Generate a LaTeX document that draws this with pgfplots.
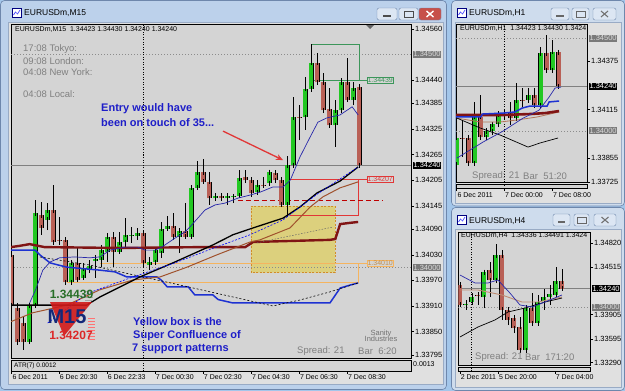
\documentclass[border=0pt]{standalone}
\usepackage{fontspec}
\setmainfont{Liberation Sans}
\usepackage{pgfplots}
\usepackage{pgfplotstable}
\pgfplotsset{compat=1.18}
\usetikzlibrary{arrows.meta}

\definecolor{desk}{RGB}{163,198,234}
\definecolor{frameA}{RGB}{188,209,235}
\definecolor{frameI}{RGB}{206,220,237}
\definecolor{frameB}{RGB}{110,135,172}
\definecolor{client}{RGB}{224,224,224}
\definecolor{plotbg}{RGB}{212,212,212}
\definecolor{bullc}{RGB}{34,200,34}
\definecolor{bearc}{RGB}{185,96,86}
\definecolor{maroonL}{RGB}{128,20,20}
\definecolor{kblue}{RGB}{30,50,210}
\definecolor{navyL}{RGB}{40,40,170}
\definecolor{siennaL}{RGB}{160,82,45}
\definecolor{tanL}{RGB}{190,140,115}
\definecolor{txtgray}{RGB}{128,128,128}
\definecolor{annblue}{RGB}{30,30,200}
\definecolor{yellowbox}{RGB}{220,208,125}
\definecolor{boxedge}{RGB}{210,140,40}
\definecolor{orangeL}{RGB}{245,180,95}
\definecolor{redL}{RGB}{225,55,55}
\definecolor{greenL}{RGB}{60,150,90}
\definecolor{btnfill}{RGB}{220,230,243}
\definecolor{closered}{RGB}{199,80,74}

\newcommand{\ft}[1]{\fontsize{#1}{#1}\selectfont}

% ---------------- data: M15 ----------------
\pgfplotstableread{
x o h l c
3 1.33826 1.33917 1.33821 1.33912
4 1.33912 1.34159 1.33908 1.34128
6 1.34112 1.34151 1.34088 1.34135
10 1.33966 1.34013 1.33964 1.34011
12 1.33976 1.34011 1.33971 1.33999
13 1.33994 1.34018 1.33990 1.34004
14 1.34016 1.34030 1.33976 1.34020
15 1.34018 1.34053 1.34001 1.34041
16 1.34037 1.34081 1.34013 1.34072
18 1.34037 1.34084 1.34034 1.34060
19 1.34060 1.34116 1.34048 1.34077
20 1.34074 1.34095 1.34058 1.34076
21 1.34074 1.34093 1.34065 1.34081
23 1.34006 1.34025 1.33994 1.34013
24 1.34013 1.34048 1.34011 1.34041
25 1.34034 1.34107 1.34023 1.34091
26 1.34091 1.34121 1.34088 1.34098
28 1.34072 1.34093 1.34034 1.34086
30 1.34072 1.34189 1.34069 1.34187
31 1.34187 1.34250 1.34185 1.34224
34 1.34163 1.34170 1.34161 1.34168
36 1.34163 1.34170 1.34147 1.34168
37 1.34166 1.34173 1.34151 1.34167
38 1.34168 1.34229 1.34166 1.34210
41 1.34177 1.34205 1.34175 1.34194
43 1.34198 1.34229 1.34194 1.34224
46 1.34147 1.34262 1.34119 1.34240
47 1.34240 1.34400 1.34236 1.34353
49 1.34353 1.34447 1.34323 1.34419
50 1.34419 1.34524 1.34412 1.34480
54 1.34334 1.34393 1.34283 1.34369
55 1.34369 1.34445 1.34365 1.34435
57 1.34393 1.34435 1.34381 1.34421
}\mbull
\pgfplotstableread{
x o h l c
0 1.34030 1.34034 1.33910 1.33912
1 1.33905 1.33917 1.33819 1.33826
2 1.33870 1.33884 1.33807 1.33826
5 1.34123 1.34154 1.34077 1.34093
7 1.34135 1.34194 1.34060 1.34060
8 1.34065 1.34119 1.34053 1.34063
9 1.34065 1.34072 1.33962 1.33966
11 1.34011 1.34048 1.33968 1.33971
17 1.34072 1.34084 1.34001 1.34037
22 1.34081 1.34084 1.34001 1.34011
27 1.34098 1.34128 1.34065 1.34072
29 1.34086 1.34151 1.34070 1.34072
32 1.34224 1.34255 1.34198 1.34201
33 1.34201 1.34224 1.34147 1.34163
35 1.34168 1.34170 1.34161 1.34163
39 1.34212 1.34229 1.34198 1.34205
40 1.34205 1.34212 1.34166 1.34175
42 1.34194 1.34212 1.34187 1.34193
44 1.34222 1.34229 1.34198 1.34205
45 1.34205 1.34212 1.34142 1.34147
48 1.34353 1.34381 1.34299 1.34351
51 1.34480 1.34503 1.34435 1.34435
52 1.34435 1.34456 1.34369 1.34369
53 1.34372 1.34421 1.34330 1.34334
56 1.34435 1.34491 1.34388 1.34393
58 1.34423 1.34430 1.34240 1.34240
}\mbear
% ---------------- data: H1 ----------------
\pgfplotstableread{
x o h l c
0 1.33817 1.33978 1.33740 1.33962
3 1.33827 1.34156 1.33817 1.34075
5 1.33967 1.34016 1.33962 1.33999
6 1.33999 1.34048 1.33978 1.34037
7 1.34037 1.34107 1.34021 1.34091
8 1.34091 1.34112 1.34059 1.34093
10 1.34069 1.34258 1.34059 1.34166
12 1.34166 1.34231 1.34156 1.34193
14 1.34139 1.34452 1.34129 1.34419
16 1.34328 1.34489 1.34317 1.34425
}\hbull
\pgfplotstableread{
x o h l c
1 1.33962 1.34059 1.33860 1.33960
2 1.33962 1.33978 1.33817 1.33827
4 1.34075 1.34193 1.33962 1.33967
9 1.34096 1.34156 1.34032 1.34069
11 1.34166 1.34231 1.34129 1.34164
13 1.34193 1.34231 1.34129 1.34139
15 1.34419 1.34516 1.34328 1.34328
17 1.34423 1.34430 1.34240 1.34240
}\hbear
% ---------------- data: H4 ----------------
\pgfplotstableread{
x o h l c
1 1.34030 1.34094 1.33966 1.34043
2 1.34068 1.34183 1.34055 1.34132
4 1.34132 1.34478 1.33991 1.34452
6 1.34350 1.34811 1.34324 1.34670
11 1.33453 1.34030 1.33428 1.33991
13 1.33799 1.34158 1.33773 1.34068
14 1.34081 1.34235 1.33966 1.34132
15 1.34132 1.34286 1.34030 1.34171
16 1.34158 1.34516 1.34132 1.34336
}\fbull
\pgfplotstableread{
x o h l c
0 1.34286 1.34324 1.34004 1.34030
3 1.34158 1.34183 1.34030 1.34145
5 1.34478 1.34580 1.34132 1.34350
7 1.34670 1.34734 1.33838 1.33966
8 1.33966 1.33991 1.33773 1.33838
9 1.33863 1.33902 1.33671 1.33735
10 1.33748 1.33876 1.33415 1.33453
12 1.33991 1.34183 1.33773 1.33799
17 1.34336 1.34491 1.34230 1.34240
}\fbear

\pgfplotsset{
  candle wick/.style={draw=none, mark=none, forget plot,
    error bars/.cd, y dir=plus, y explicit, error mark=none,
    error bar style={draw=black, line width=0.8pt}},
  candle edge/.style={draw=none, mark=none, forget plot,
    error bars/.cd, y dir=plus, y explicit, error mark=none,
    error bar style={draw=black, line width=5pt}},
  candle body/.style={draw=none, mark=none, forget plot,
    error bars/.cd, y dir=both, y explicit, error mark=-,
    error bar style={draw=#1, line width=3.8pt},
    error mark options={draw=black, line width=0.6pt, mark size=2.5pt}},
  mtaxis/.style={scale only axis, anchor=north west,
    axis background/.style={fill=plotbg},
    axis line style={line width=0.7pt, black},
    tick align=outside, major tick length=3pt,
    tick style={black, line width=0.5pt},
    ytick pos=right, yticklabel pos=right,
    yticklabel style={font=\ft{7.5}, inner sep=1pt},
    xtick=\empty, clip mode=individual},
  stripaxis/.style={scale only axis, anchor=north west,
    axis background/.style={fill=plotbg},
    axis line style={line width=0.7pt, black},
    ymin=0, ymax=1, ytick=\empty, xtick pos=left,
    tick align=outside, major tick length=2.5pt,
    tick style={black, line width=0.5pt},
    xticklabel style={anchor=north west, font=\ft{7}, inner sep=0.6pt},
    clip mode=individual},
  lvl/.style={forget plot, mark=none, black!45, line width=0.6pt, dash pattern=on 1pt off 2pt},
  bid/.style={forget plot, mark=none, black!50, line width=0.6pt},
  sep/.style={forget plot, mark=none, black, line width=0.6pt, dash pattern=on 1pt off 1.5pt},
}

\newcommand{\candles}[2]{%
  \addplot[candle wick] table[x=x,y=l,y error plus expr=\thisrow{h}-\thisrow{l}]{#1};
  \addplot[candle wick] table[x=x,y=l,y error plus expr=\thisrow{h}-\thisrow{l}]{#2};
  \addplot[candle edge] table[x=x,y=o,y error plus expr=\thisrow{c}-\thisrow{o}]{#1};
  \addplot[candle edge] table[x=x,y=c,y error plus expr=\thisrow{o}-\thisrow{c}]{#2};
  \addplot[candle body=bullc] table[x=x,y=o,y error plus expr=\thisrow{c}-\thisrow{o},y error minus expr=0]{#1};
  \addplot[candle body=bearc] table[x=x,y=c,y error plus expr=\thisrow{o}-\thisrow{c},y error minus expr=0]{#2};
}

\begin{document}
\begin{tikzpicture}
\useasboundingbox (0,0) rectangle (625pt,-391pt);
% ================= window chrome =================
\begin{scope}[x=1pt,y=-1pt]
\fill[desk] (0,0) rectangle (625,391);
% main window
\fill[frameA, draw=frameB, line width=0.6pt, rounded corners=4pt] (0.5,0.5) rectangle (446.5,389.5);
\fill[client, draw=frameB!70, line width=0.5pt] (8,22) rectangle (443,384);
\draw[blue!50!black, fill=white, line width=0.5pt] (12,8) rectangle (21,17);
\draw[blue!70, line width=0.7pt] (13.5,15) -- (15.5,12) -- (17.5,14) -- (20,10);
\node[anchor=west, font=\ft{8.5}, inner sep=0] at (24,13) {EURUSDm,M15};
\fill[btnfill, draw=frameB, rounded corners=2pt] (377,8) rectangle (397,20);
\draw[black!70, line width=1.3pt] (383,16) -- (391,16);
\fill[btnfill, draw=frameB, rounded corners=2pt] (399,8) rectangle (418,20);
\draw[black!70, line width=0.6pt] (404,11) rectangle (413,17);
\draw[black!70, line width=1.2pt] (404,11.6) -- (413,11.6);
\fill[closered, draw=frameB, rounded corners=2pt] (419,8) rectangle (441,20);
\draw[white, line width=1.4pt] (426.5,11) -- (433.5,17) (426.5,17) -- (433.5,11);
% H1 window
\fill[frameI, draw=frameB, line width=0.6pt, rounded corners=4pt] (451.5,0.5) rectangle (624.5,206);
\fill[client, draw=frameB!70, line width=0.5pt] (455,22) rectangle (621,203);
\draw[blue!50!black, fill=white, line width=0.5pt] (457,8) rectangle (466,17);
\draw[blue!70, line width=0.7pt] (458.5,15) -- (460.5,12) -- (462.5,14) -- (465,10);
\node[anchor=west, font=\ft{8.5}, inner sep=0] at (469,13) {EURUSDm,H1};
\fill[btnfill, draw=frameB, rounded corners=2pt] (551,8) rectangle (569,20);
\draw[black!60, line width=1.2pt] (556,16) -- (564,16);
\fill[btnfill, draw=frameB, rounded corners=2pt] (572,8) rectangle (589,20);
\draw[black!60, line width=0.6pt] (576,11) rectangle (585,17);
\fill[btnfill, draw=frameB, rounded corners=2pt] (593,8) rectangle (616,20);
\draw[black!55, line width=1.1pt] (601,11) -- (608,17) (601,17) -- (608,11);
% H4 window
\fill[frameI, draw=frameB, line width=0.6pt, rounded corners=4pt] (451.5,207.5) rectangle (624.5,390.5);
\fill[client, draw=frameB!70, line width=0.5pt] (455,229) rectangle (621,387);
\draw[blue!50!black, fill=white, line width=0.5pt] (457,215) rectangle (466,224);
\draw[blue!70, line width=0.7pt] (458.5,222) -- (460.5,219) -- (462.5,221) -- (465,217);
\node[anchor=west, font=\ft{8.5}, inner sep=0] at (469,221) {EURUSDm,H4};
\fill[btnfill, draw=frameB, rounded corners=2pt] (553,214) rectangle (570,226);
\draw[black!60, line width=1.2pt] (558,222) -- (565,222);
\fill[btnfill, draw=frameB, rounded corners=2pt] (574,214) rectangle (589,226);
\draw[black!60, line width=0.6pt] (577,217) rectangle (586,223);
\fill[btnfill, draw=frameB, rounded corners=2pt] (594,214) rectangle (616,226);
\draw[black!55, line width=1.1pt] (601.5,217) -- (608.5,223) (601.5,223) -- (608.5,217);
\end{scope}

% ================= M15 main chart =================
\begin{axis}[mtaxis, at={(11pt,-24.5pt)}, width=400pt, height=333.5pt,
  xmin=0, xmax=66.6, ymin=1.33788, ymax=1.34570,
  ytick={1.34560,1.34440,1.34385,1.34325,1.34265,1.34205,1.34145,1.34090,1.34030,1.33970,1.33910,1.33850,1.33795},
  yticklabels={1.34560,1.34440,1.34385,1.34325,1.34265,1.34205,1.34145,1.34090,1.34030,1.33970,1.33910,1.33850,1.33795}]
% yellow confluence box
\addplot[forget plot, mark=none, fill=yellowbox, draw=boxedge, line width=0.6pt, dash pattern=on 2pt off 1.5pt]
  coordinates {(39.95,1.34144)(53.95,1.34144)(53.95,1.33988)(39.95,1.33988)(39.95,1.34144)};
% levels
\addplot[lvl] coordinates {(0,1.34500)(66.6,1.34500)};
\addplot[lvl] coordinates {(0,1.34000)(66.6,1.34000)};
\addplot[bid] coordinates {(0,1.34240)(66.6,1.34240)};
\addplot[sep] coordinates {(21.97,1.33788)(21.97,1.34570)};
% rectangles
\addplot[forget plot, mark=none, orangeL, line width=0.9pt] coordinates {(14.8,1.34010)(59.2,1.34010)};
\addplot[forget plot, mark=none, orangeL, line width=0.9pt] coordinates {(9.3,1.33964)(57.8,1.33964)(57.8,1.34010)};
\addplot[forget plot, mark=none, redL, line width=0.8pt] coordinates {(46.45,1.34123)(57.8,1.34123)(57.8,1.34207)(46.45,1.34207)};
\addplot[forget plot, mark=none, redL, line width=0.8pt] coordinates {(57.8,1.34207)(59.2,1.34207)};
\addplot[forget plot, mark=none, greenL, line width=0.8pt] coordinates {(59.2,1.34439)(49.95,1.34439)(49.95,1.34524)(57.95,1.34524)(57.95,1.34439)};
\addplot[forget plot, mark=none, red!75!black, line width=0.9pt, dash pattern=on 5pt off 3pt] coordinates {(37.78,1.34157)(61.95,1.34157)};
% candles
\candles{\mbull}{\mbear}
% indicators
\addplot[forget plot, mark=none, maroonL, line width=2.4pt] coordinates {(-0.05,1.34048)(1.45,1.34051)(3.1,1.34055)(5.6,1.34048)(18.1,1.34046)(31.5,1.34048)(39,1.34048)(40.3,1.34060)(53.1,1.34065)(54,1.34067)(54.8,1.34102)(56.5,1.34105)(57.8,1.34107)};
\addplot[forget plot, mark=none, kblue, line width=1.5pt] coordinates {(-0.05,1.34041)(4,1.34041)(4.8,1.34030)(6.5,1.34011)(9.3,1.34001)(14.8,1.33994)(17.3,1.33990)(19.3,1.33978)(24.3,1.33978)(25,1.33971)(26,1.33955)(29.5,1.33955)(30.6,1.33936)(33.6,1.33936)(34.5,1.33925)(36.95,1.33917)(53.1,1.33917)(54.8,1.33952)(56.45,1.33959)(57.8,1.33964)};
\addplot[forget plot, mark=none, black, line width=0.6pt, dash pattern=on 2pt off 2pt] coordinates {(4.8,1.34025)(13.1,1.34006)(21.95,1.33978)(25.95,1.33966)(43.6,1.33910)(48.1,1.33924)(53.1,1.33943)(57.8,1.33964)};
\addplot[forget plot, mark=none, siennaL, line width=1pt] coordinates {(-0.05,1.33873)(3.6,1.33894)(9.3,1.33912)(14.8,1.33948)(20.3,1.33971)(24.8,1.33978)(29.3,1.34001)(34.3,1.34030)(39.8,1.34060)(41.45,1.34065)(46.45,1.34093)(49.8,1.34142)(51.95,1.34166)(54.8,1.34187)(57.8,1.34201)};
\addplot[forget plot, mark=none, black, line width=1.3pt] coordinates {(0.12,1.33912)(6.45,1.33912)(12.6,1.33912)(14.8,1.33931)(21.45,1.33978)(26.95,1.34011)(33.6,1.34053)(36.95,1.34077)(40.3,1.34093)(45.3,1.34116)(48.1,1.34142)(50.95,1.34175)(54.8,1.34203)(57.8,1.34236)};
\addplot[forget plot, mark=none, blue, line width=0.6pt, dash pattern=on 2pt off 1.5pt] coordinates {(6.1,1.33870)(12.8,1.33940)(20.3,1.33978)(27.3,1.34011)(33.6,1.34045)(39.8,1.34077)(45.3,1.34112)(50.95,1.34172)(57.8,1.34236)};
\addplot[forget plot, mark=none, black!60, line width=0.5pt, dash pattern=on 1.5pt off 1.5pt] coordinates {(40.95,1.34058)(53.6,1.34095)};
\addplot[forget plot, mark=none, navyL, line width=0.7pt] coordinates {(3.1,1.33917)(4.1,1.33948)(5.3,1.33994)(6.5,1.34013)(8.1,1.34023)(10.6,1.34025)(13.1,1.34023)(14.8,1.34025)(16.5,1.34041)(19,1.34048)(21.1,1.34048)(22.3,1.34041)(24,1.34041)(25.1,1.34048)(27.3,1.34069)(29,1.34084)(30.1,1.34100)(32.3,1.34135)(34,1.34147)(35.6,1.34151)(37.8,1.34163)(39.8,1.34170)(41.5,1.34177)(43.6,1.34189)(45.3,1.34189)(46.5,1.34205)(48.1,1.34259)(49.8,1.34306)(51.1,1.34341)(52.6,1.34351)(54.8,1.34358)(56.8,1.34377)(57.8,1.34358)};
% object labels
\node[anchor=west, draw=greenL, text=greenL, fill=plotbg, font=\ft{7}, inner sep=0.8pt] at (axis cs:59.2,1.34439) {1.34439};
\node[anchor=west, draw=redL, text=redL, fill=plotbg, font=\ft{7}, inner sep=0.8pt] at (axis cs:59.2,1.34207) {1.34207};
\node[anchor=west, draw=orangeL, text=orangeL!80!black, fill=plotbg, font=\ft{7}, inner sep=0.8pt] at (axis cs:59.2,1.34010) {1.34010};
% highlighted price labels
\node[anchor=west, fill=black!52, text=black!15, font=\ft{7.5}, inner sep=0.8pt] at ([xshift=1.5pt]axis cs:66.6,1.34500) {1.34500};
\node[anchor=west, fill=black, text=white, font=\ft{7.5}, inner sep=0.8pt] at ([xshift=1.5pt]axis cs:66.6,1.34240) {1.34240};
\node[anchor=west, fill=black!52, text=black!15, font=\ft{7.5}, inner sep=0.8pt] at ([xshift=1.5pt]axis cs:66.6,1.34000) {1.34000};
% arrow
\draw[redL, line width=1.3pt, -{Stealth[length=7pt,width=6pt]}] (axis cs:35.3,1.34320) -- (axis cs:45.3,1.34252);
\end{axis}

% ATR sub-window with time axis
\begin{axis}[stripaxis, at={(11pt,-360pt)}, width=400pt, height=11pt,
  xmin=0, xmax=66.6,
  xtick={0.12,8,16,24,32,40,48,56},
  xticklabels={6 Dec 2011,6 Dec 20:30,6 Dec 22:33,7 Dec 00:30,7 Dec 02:30,7 Dec 04:30,7 Dec 06:30,7 Dec 08:30}]
\addplot[sep] coordinates {(21.97,0)(21.97,1)};
\end{axis}

% ================= H1 chart =================
\begin{axis}[mtaxis, at={(456pt,-24.5pt)}, width=131pt, height=157.5pt,
  xmin=-0.12, xmax=21.7, ymin=1.33725, ymax=1.34573,
  ytick={1.34375,1.34115,1.33855,1.33725},
  yticklabels={1.34375,1.34115,1.33855,1.33725}]
\addplot[lvl] coordinates {(-0.12,1.34500)(21.7,1.34500)};
\addplot[lvl] coordinates {(-0.12,1.34000)(21.7,1.34000)};
\addplot[bid] coordinates {(-0.12,1.34240)(21.7,1.34240)};
\addplot[sep] coordinates {(7.88,1.33725)(7.88,1.34573)};
\candles{\hbull}{\hbear}
\addplot[forget plot, mark=none, siennaL!80!white, line width=0.8pt] coordinates {(0.05,1.34069)(3.88,1.34048)(7.22,1.34048)(10.05,1.34059)(13.38,1.34075)(17.05,1.34102)};
\addplot[forget plot, mark=none, maroonL, line width=2.6pt] coordinates {(-0.12,1.34086)(8.05,1.34086)(12.22,1.34091)(14.72,1.34096)(17.05,1.34107)};
\addplot[forget plot, mark=none, kblue, line width=1.5pt] coordinates {(-0.12,1.34075)(4,1.34075)(4.3,1.34091)(7.7,1.34096)(9.7,1.34102)(10.9,1.34123)(12.2,1.34134)(15.05,1.34134)(15.4,1.34156)(17.05,1.34161)};
\addplot[forget plot, mark=none, black, line width=0.7pt] coordinates {(0.05,1.34069)(3.88,1.34016)(7.22,1.33978)(11.88,1.33913)(13.88,1.33935)(16.88,1.33962)};
\addplot[forget plot, mark=none, navyL, line width=0.7pt] coordinates {(0.05,1.33854)(4.38,1.33940)(7.72,1.33999)(11.05,1.34069)(13.72,1.34112)(15.38,1.34182)(16.38,1.34231)(17.38,1.34236)};
\node[anchor=west, fill=black!52, text=black!15, font=\ft{7.5}, inner sep=0.8pt] at ([xshift=1.5pt]axis cs:21.7,1.34500) {1.34500};
\node[anchor=west, fill=black, text=white, font=\ft{7.5}, inner sep=0.8pt] at ([xshift=1.5pt]axis cs:21.7,1.34240) {1.34240};
\node[anchor=west, fill=black!52, text=black!15, font=\ft{7.5}, inner sep=0.8pt] at ([xshift=1.5pt]axis cs:21.7,1.34000) {1.34000};
\end{axis}
\begin{axis}[stripaxis, at={(456pt,-184pt)}, width=131pt, height=4.5pt,
  xmin=-0.12, xmax=21.7, xtick={0,7.93,15.93},
  xticklabels={6 Dec 2011,7 Dec 00:00,7 Dec 08:00},
  xticklabel style={yshift=-1pt}]
\addplot[sep] coordinates {(7.88,0)(7.88,1)};
\end{axis}

% ================= H4 chart =================
\begin{axis}[mtaxis, at={(458.3pt,-232pt)}, width=131.7pt, height=133pt,
  xmin=-0.28, xmax=21.67, ymin=1.33261, ymax=1.34965,
  ytick={1.34820,1.34515,1.33905,1.33595,1.33290},
  yticklabels={1.34820,1.34515,1.33905,1.33595,1.33290}]
\addplot[lvl] coordinates {(-0.28,1.34000)(21.67,1.34000)};
\addplot[bid] coordinates {(-0.28,1.34240)(21.67,1.34240)};
\addplot[sep] coordinates {(1.83,1.33261)(1.83,1.34965)};
\candles{\fbull}{\fbear}
\addplot[forget plot, mark=none, tanL, line width=0.9pt] coordinates {(0,1.34222)(3,1.34222)(7,1.34158)(10.33,1.34068)(13,1.34068)(17,1.34132)};
\addplot[forget plot, mark=none, black, line width=0.7pt] coordinates {(0,1.33620)(3,1.33748)(5.83,1.33838)(8,1.33940)(10.83,1.33991)(14.17,1.34068)(17,1.34119)};
\addplot[forget plot, mark=none, navyL, line width=0.7pt] coordinates {(0,1.34414)(2.5,1.34312)(4.67,1.34312)(6.33,1.34350)(8.33,1.34183)(10,1.34030)(12,1.34004)(14.17,1.34068)(17,1.34158)};
\node[anchor=west, fill=black, text=white, font=\ft{7.5}, inner sep=0.8pt] at ([xshift=1.5pt]axis cs:21.67,1.34240) {1.34240};
\node[anchor=west, fill=black!52, text=black!15, font=\ft{7.5}, inner sep=0.8pt] at ([xshift=1.5pt]axis cs:21.67,1.34000) {1.34000};
\end{axis}
\begin{axis}[stripaxis, at={(458.3pt,-367pt)}, width=131.7pt, height=4pt,
  xmin=-0.28, xmax=21.67, xtick={0,6.38,15.83},
  xticklabels={2 Dec 2011,5 Dec 20:00,7 Dec 04:00}]
\addplot[sep] coordinates {(1.83,0)(1.83,1)};
\end{axis}

% ================= texts and overlays =================
\begin{scope}[x=1pt,y=-1pt]
\node[anchor=west, font=\ft{7}, inner sep=0] at (15,30) {EURUSDm,M15\ \ 1.34423 1.34430 1.34240 1.34240};
\fill[black!60] (366,25) -- (374,25) -- (370,29) -- cycle;
\node[anchor=west, font=\ft{9.5}, text=txtgray, inner sep=0] at (23,49.5) {17:08 Tokyo:};
\node[anchor=west, font=\ft{9.5}, text=txtgray, inner sep=0] at (23,61) {09:08 London:};
\node[anchor=west, font=\ft{9.5}, text=txtgray, inner sep=0] at (23,72) {04:08 New York:};
\node[anchor=west, font=\ft{9.5}, text=txtgray, inner sep=0] at (23,94.5) {04:08 Local:};
\node[anchor=west, font=\ft{11}\bfseries, text=annblue, inner sep=0] at (101,108.3) {Entry would have};
\node[anchor=west, font=\ft{11}\bfseries, text=annblue, inner sep=0] at (101,122.3) {been on touch of 35...};
\node[anchor=west, font=\ft{11}\bfseries, text=annblue, inner sep=0] at (133,322) {Yellow box is the};
\node[anchor=west, font=\ft{11}\bfseries, text=annblue, inner sep=0] at (133,335.7) {Super Confluence of};
\node[anchor=west, font=\ft{11}\bfseries, text=annblue, inner sep=0] at (132,349) {7 support patterns};
\node[anchor=west, font=\ft{9.5}, text=txtgray, inner sep=0] at (297,351) {Spread: 21};
\node[anchor=west, font=\ft{9.5}, text=txtgray, inner sep=0] at (358,351) {Bar\ \ 6:20};
\node[anchor=center, font=\ft{7.5}, text=black!55, inner sep=0, align=center] at (381,336) {Sanity\\[-1pt]Industries};
% M15 badge
\foreach \yy in {318,321,324,327,330,333,336,339} {\draw[red!55, line width=0.9pt] (88,\yy) -- (95,\yy);}
\foreach \yy in {291,294,297,300} {\draw[black!35, line width=0.9pt] (85,\yy) -- (93,\yy);}
\fill[red!80!black!90, opacity=0.9] (50,302) -- (92,302) -- (64,336) -- cycle;
\node[font=\ft{12}\bfseries, text={rgb,255:red,40;green,110;blue,40}, inner sep=0] at (71.5,294) {1.34439};
\node[font=\ft{20}\bfseries, text={rgb,255:red,20;green,40;blue,120}, inner sep=0] at (67,317) {M15};
\node[font=\ft{12}\bfseries, text={rgb,255:red,220;green,40;blue,40}, inner sep=0] at (71,335) {1.34207};
% ATR texts
\node[anchor=west, font=\ft{6.5}, inner sep=0] at (14,366) {ATR(7) 0.0012};
\node[anchor=west, font=\ft{7}, inner sep=0] at (413,364) {0.0013};
% H1 texts
\node[anchor=west, font=\ft{7}, inner sep=0] at (460,29) {EURUSDm,H1\ \ 1.34423 1.34430 1.3424};
\node[anchor=west, font=\ft{9.5}, text=txtgray, inner sep=0] at (472,176) {Spread: 21};
\node[anchor=west, font=\ft{9.5}, text=txtgray, inner sep=0] at (523,176) {Bar\ \ 51:20};
% H4 texts
\node[anchor=west, font=\ft{7}, inner sep=0] at (461,236) {EURUSDm,H4\ \ 1.34336 1.34491 1.3424};
\node[anchor=west, font=\ft{9.5}, text=txtgray, inner sep=0] at (475,357.5) {Spread: 21};
\node[anchor=west, font=\ft{9.5}, text=txtgray, inner sep=0] at (525,357.5) {Bar\ \ 171:20};
\end{scope}
\end{tikzpicture}
\end{document}
